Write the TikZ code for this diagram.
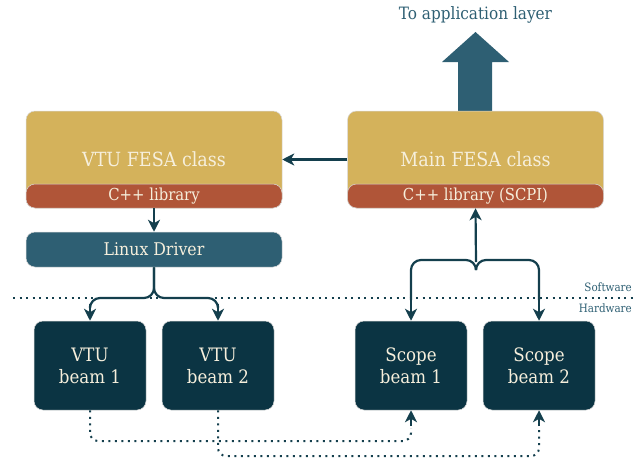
\documentclass[tikz,border=0pt]{standalone}
\usepackage{fontspec}
\setmainfont{DejaVu Serif Condensed}
\usetikzlibrary{arrows.meta}
\definecolor{gold}{HTML}{D4B25B}
\definecolor{brick}{HTML}{B05538}
\definecolor{teal}{HTML}{2E5F73}
\definecolor{darkbox}{HTML}{0B3443}
\definecolor{cream}{HTML}{F6EFDC}
\definecolor{linec}{HTML}{143F4D}
\tikzset{
  base/.style={rectangle, rounded corners=9pt, inner sep=0pt, draw=white!85!black, line width=0.5pt},
  classbox/.style={base, fill=gold, minimum width=256pt, minimum height=97pt, text=cream, font=\fontsize{19.5}{22}\selectfont},
  libbox/.style={base, fill=brick, minimum width=256pt, minimum height=24pt, text=cream, font=\fontsize{16.5}{20}\selectfont},
  drvbox/.style={base, fill=teal, minimum width=256pt, minimum height=35pt, text=cream, font=\fontsize{17.5}{20}\selectfont},
  hwbox/.style={base, fill=darkbox, minimum width=112pt, minimum height=89pt, text=cream, align=center, font=\fontsize{18.5}{22}\selectfont},
  conn/.style={draw=linec, line width=2.2pt, -{Stealth[length=12pt,width=12pt,inset=3.5pt]}},
  branch/.style={draw=linec, line width=2.2pt, rounded corners=10pt},
  dotconn/.style={draw=linec, line width=2pt, dash pattern=on 2pt off 4.5pt, rounded corners=8pt},
  layerlbl/.style={text=teal, font=\fontsize{11.5}{13}\selectfont, anchor=east, inner sep=0pt}
}
\begin{document}
\begin{tikzpicture}[x=1pt,y=-1pt]
\useasboundingbox (0,0) rectangle (639,460);

% big arrow to application layer
\fill[teal] (458,112) -- (458,62) -- (442,62) -- (475.5,32) -- (509,62) -- (492,62) -- (492,112) -- cycle;
\node[text=teal, font=\fontsize{17}{20}\selectfont] (app) at (475.5,15) {To application layer};

% class boxes
\node[classbox] (vtu) at (154,159.5) {};
\node[libbox] (vtulib) at (154,196) {C++ library};
\node[text=cream, font=\fontsize{19.5}{22}\selectfont] (vtutxt) at (154,159) {VTU FESA class};

\node[classbox] (mainf) at (475.5,159.5) {};
\node[libbox] (mainlib) at (475.5,196) {C++ library (SCPI)};
\node[text=cream, font=\fontsize{19.5}{22}\selectfont] (maintxt) at (475.5,159) {Main FESA class};

\node[drvbox] (linux) at (154,249.5) {Linux Driver};

% hardware boxes
\node[hwbox] (vtu1) at (90,365.5) {VTU\\beam 1};
\node[hwbox] (vtu2) at (218,365.5) {VTU\\beam 2};
\node[hwbox] (scope1) at (411,365.5) {Scope\\beam 1};
\node[hwbox] (scope2) at (539,365.5) {Scope\\beam 2};

% software / hardware separator
\coordinate (sepL) at (13,298);
\coordinate (sepR) at (634,298);
\draw[draw=linec, line width=2pt, dash pattern=on 2pt off 4.5pt] (sepL) -- (sepR);
\node[layerlbl] (sw) at (632,287) {Software};
\node[layerlbl] (hw) at (632,308) {Hardware};

% connectors
\draw[conn] (mainf.west) -- (vtu.east);
\draw[conn] (vtulib.south) -- (linux.north);

\draw[branch] (linux.south) -- (154,298) -- (90,298) -- (90,306);
\draw[conn] (90,304) -- (vtu1.north);
\draw[branch] (linux.south) -- (154,298) -- (218,298) -- (218,306);
\draw[conn] (218,304) -- (vtu2.north);

\draw[conn] (476,262) -- (mainlib.south);
\draw[branch] (476,268) -- (476,260) -- (411,260) -- (411,300);
\draw[conn] (411,290) -- (scope1.north);
\draw[branch] (476,268) -- (476,260) -- (539,260) -- (539,300);
\draw[conn] (539,290) -- (scope2.north);

% dotted hardware links
\draw[dotconn] (vtu1.south) -- (90,441) -- (411,441) -- (411,428);
\draw[conn, line width=2pt] (411,426) -- (scope1.south);
\draw[dotconn] (vtu2.south) -- (218,456) -- (539,456) -- (539,428);
\draw[conn, line width=2pt] (539,426) -- (scope2.south);
\end{tikzpicture}
\end{document}
